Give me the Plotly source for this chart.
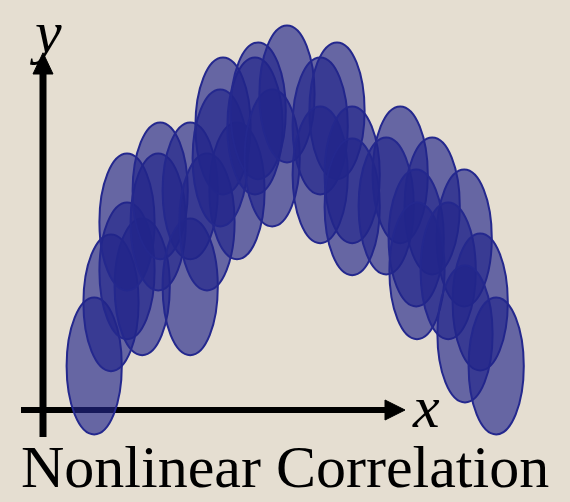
import plotly.graph_objects as go

# Sample centres (x, y) of the scatter, in axis units
x_vals = [1.28, 1.70, 2.10, 2.48, 2.10, 2.88, 2.93, 3.68, 3.68, 4.10, 4.85,
          4.50, 4.43, 5.30, 5.38, 5.73, 6.10, 6.93, 7.35, 6.93, 7.73, 7.73,
          8.93, 8.58, 9.73, 9.33, 10.53, 9.35, 10.13, 10.93, 10.55, 11.33]
y_vals = [1.10, 2.68, 3.48, 3.08, 4.70, 4.70, 5.48, 5.48, 3.08, 4.70, 5.48,
          7.10, 6.30, 7.10, 7.48, 6.30, 7.90, 7.10, 7.48, 5.88, 5.88, 5.08,
          5.88, 5.10, 5.10, 4.30, 4.30, 3.48, 3.48, 2.70, 1.90, 1.10]

title_text = "Nonlinear Correlation"
x_label = "x"
y_label = "y"

W, H = 570, 502
PX = 40.0                      # pixels per axis unit
X0, Y0 = 43.0, 410.0           # pixel position of the origin
x_range = [-X0 / PX, (W - X0) / PX]
y_range = [(Y0 - H) / PX, Y0 / PX]

RX, RY = 0.69, 1.71            # ellipse half-width / half-height (axis units)
FILL = "rgba(34,37,138,0.65)"
EDGE = "rgb(36,40,142)"
BG = "rgb(229,222,209)"

shapes = []

# Axes with arrow heads
shapes.append(dict(type="line", xref="x", yref="y", x0=0, x1=0,
                   y0=-0.675, y1=8.45, line=dict(color="black", width=7)))
shapes.append(dict(type="path", xref="x", yref="y",
                   path="M -0.25 8.4 L 0.25 8.4 L 0 8.93 Z",
                   fillcolor="black", line=dict(color="black", width=1)))
shapes.append(dict(type="line", xref="x", yref="y", x0=-0.55, x1=8.6,
                   y0=0, y1=0, line=dict(color="black", width=6)))
shapes.append(dict(type="path", xref="x", yref="y",
                   path="M 8.55 -0.25 L 8.55 0.25 L 9.05 0 Z",
                   fillcolor="black", line=dict(color="black", width=1)))

# One ellipse per sample
for cx, cy in zip(x_vals, y_vals):
    shapes.append(dict(type="circle", xref="x", yref="y",
                       x0=cx - RX, x1=cx + RX, y0=cy - RY, y1=cy + RY,
                       fillcolor=FILL, line=dict(color=EDGE, width=2)))

fig = go.Figure()
fig.add_trace(go.Scatter(x=x_vals, y=y_vals, mode="markers",
                         marker=dict(size=1, opacity=0), hoverinfo="skip",
                         showlegend=False))

annotations = [
    dict(text="<i>" + y_label + "</i>", x=0.05, y=9.45, xref="x", yref="y",
         showarrow=False,
         font=dict(family="Liberation Serif", size=60, color="black"),
         xanchor="center", yanchor="middle"),
    dict(text="<i>" + x_label + "</i>", x=9.57, y=0.08, xref="x", yref="y",
         showarrow=False,
         font=dict(family="Liberation Serif", size=60, color="black"),
         xanchor="center", yanchor="middle"),
    dict(text=title_text, x=0.5, y=0.0, xref="paper", yref="paper",
         showarrow=False, xanchor="center", yanchor="bottom",
         font=dict(family="Liberation Serif", size=60, color="black")),
]

fig.update_layout(
    width=W, height=H,
    margin=dict(l=0, r=0, t=0, b=0),
    paper_bgcolor=BG, plot_bgcolor=BG,
    shapes=shapes, annotations=annotations,
    xaxis=dict(range=x_range, visible=False, fixedrange=True),
    yaxis=dict(range=y_range, visible=False, fixedrange=True),
    showlegend=False,
)

fig.write_html("out.html", config={"displayModeBar": False})
